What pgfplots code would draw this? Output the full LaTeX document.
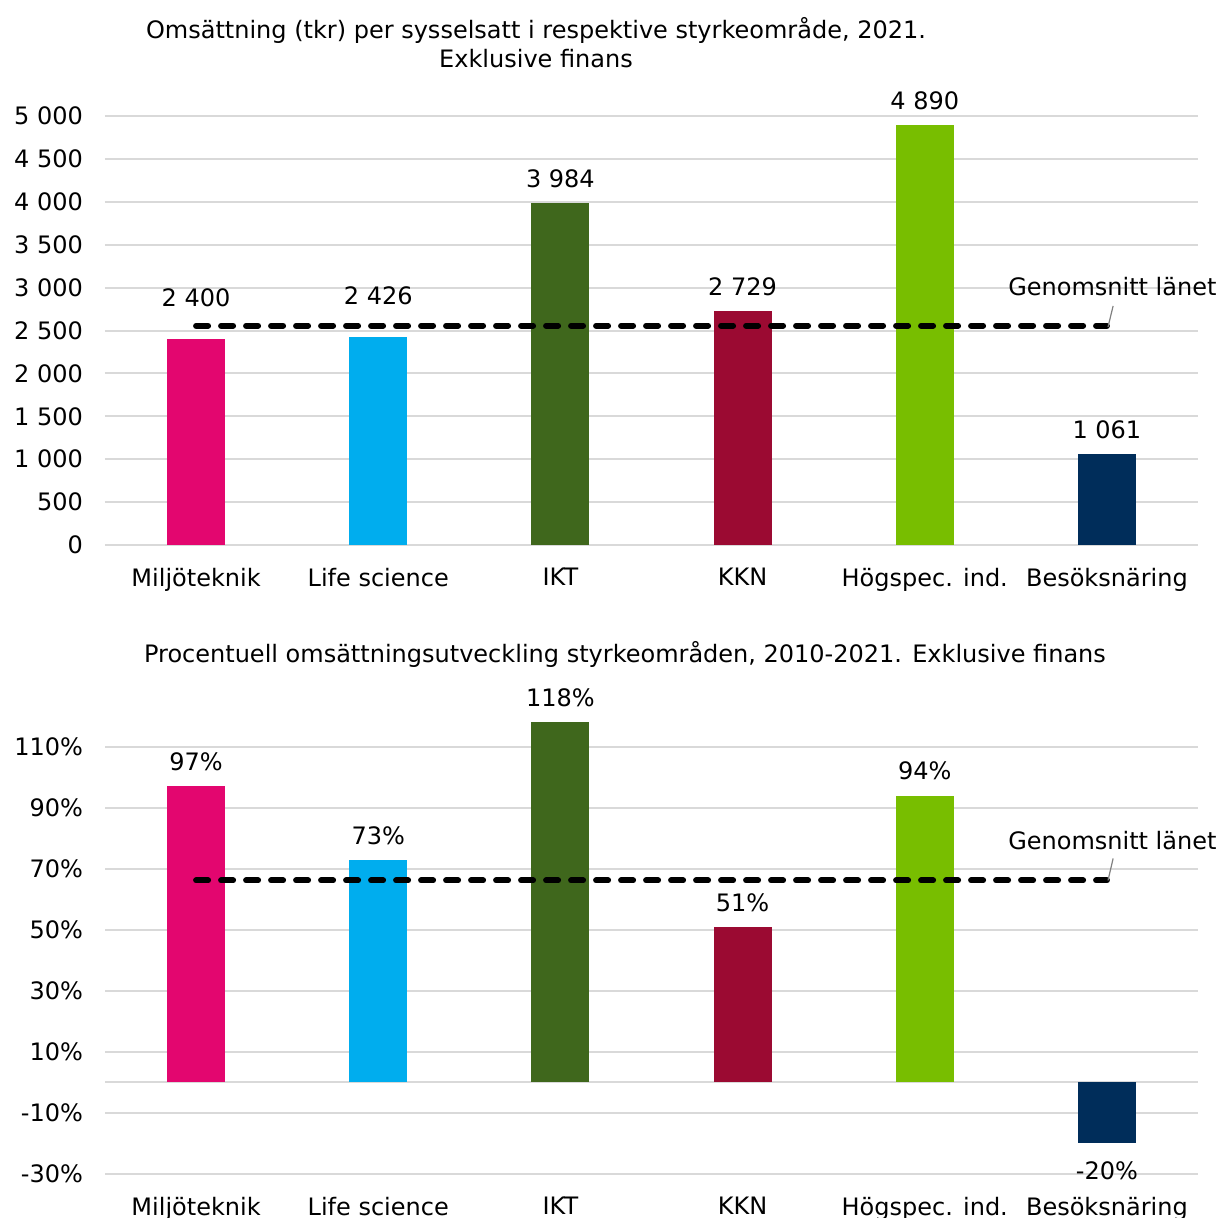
\documentclass[border=0pt]{standalone}
\usepackage{fontspec}
\setmainfont{DejaVu Sans}
\usepackage{pgfplots}
\pgfplotsset{compat=1.18}
\definecolor{cMil}{HTML}{E3066F}
\definecolor{cLife}{HTML}{00ADEE}
\definecolor{cIKT}{HTML}{3F671C}
\definecolor{cKKN}{HTML}{9B0A32}
\definecolor{cHog}{HTML}{78BE00}
\definecolor{cBes}{HTML}{002D5A}
\definecolor{gridc}{HTML}{D9D9D9}
\newcommand\fs{\fontsize{12pt}{14.5pt}\selectfont}

\tikzset{lead/.style={gray, line width=0.6pt}}
\pgfplotsset{
  base/.style={scale only axis, width=546.5pt, xmin=-0.5, xmax=5.5,
    xtick={0,...,5},
    xticklabels={Miljöteknik, Life science, IKT, KKN, Högspec. ind., Besöksnäring},
    axis line style={draw=none}, major tick length=0pt,
    ymajorgrids, grid style={gridc, line width=1pt},
    tick label style={font=\fs}, xticklabel style={yshift=-8pt},
    yticklabel style={xshift=-7.5pt}, clip=false},
  mybar/.style={ybar, bar width=29pt, bar shift=0pt, draw=none, fill=#1,
    point meta=explicit symbolic, nodes near coords,
    every node near coord/.append style={font=\fs, anchor=south, yshift=4.1pt}},
  avg/.style={black, line width=3pt, line cap=round, dash pattern=on 6pt off 6.5pt}
}

\begin{document}
\begin{tikzpicture}
% titles
\node[font=\fs, align=center] at (268pt,-21.2pt) {Omsättning (tkr) per sysselsatt i respektive styrkeområde, 2021.\\Exklusive finans};
\node[font=\fs] at (312.5pt,-327pt) {Procentuell omsättningsutveckling styrkeområden, 2010-2021. Exklusive finans};

% top chart
\begin{axis}[base, at={(52.5pt,-272.5pt)}, anchor=south west, height=214.5pt,
  ymin=0, ymax=5000, ytick={0,500,...,5000},
  yticklabels={0,500,1 000,1 500,2 000,2 500,3 000,3 500,4 000,4 500,5 000}]
\addplot[mybar=cMil, every node near coord/.append style={yshift=8.5pt}] coordinates {(0,2400) [2 400]};
\addplot[mybar=cLife, every node near coord/.append style={yshift=8.5pt}] coordinates {(1,2426) [2 426]};
\addplot[mybar=cIKT] coordinates {(2,3984) [3 984]};
\addplot[mybar=cKKN] coordinates {(3,2729) [2 729]};
\addplot[mybar=cHog] coordinates {(4,4890) [4 890]};
\addplot[mybar=cBes] coordinates {(5,1061) [1 061]};
\addplot[avg] coordinates {(0,2555) (5,2555)};
\draw[lead] (axis cs:5.006,2541) -- (axis cs:5.034,2786);
\node[font=\fs] at (axis cs:5.03,3007) {Genomsnitt länet};
\end{axis}

% bottom chart
\begin{axis}[base, at={(52.5pt,-587pt)}, anchor=south west, height=236.5pt,
  ymin=-30, ymax=125, ytick={-30,-10,...,110},
  yticklabels={-30\%,-10\%,10\%,30\%,50\%,70\%,90\%,110\%},
  extra y ticks={0}, extra y tick labels={}]
\addplot[mybar=cMil] coordinates {(0,97) [97\%]};
\addplot[mybar=cLife] coordinates {(1,73) [73\%]};
\addplot[mybar=cIKT] coordinates {(2,118) [118\%]};
\addplot[mybar=cKKN] coordinates {(3,51) [51\%]};
\addplot[mybar=cHog] coordinates {(4,94) [94\%]};
\addplot[mybar=cBes, every node near coord/.append style={anchor=north, yshift=-9.9pt}] coordinates {(5,-20) [-20\%]};
\addplot[avg] coordinates {(0,66.2) (5,66.2)};
\draw[lead] (axis cs:5.006,66.2) -- (axis cs:5.034,73.4);
\node[font=\fs] at (axis cs:5.03,79.3) {Genomsnitt länet};
\end{axis}

\pgfresetboundingbox
\path[use as bounding box] (0,0) rectangle (609.5pt,-609pt);
\end{tikzpicture}
\end{document}
